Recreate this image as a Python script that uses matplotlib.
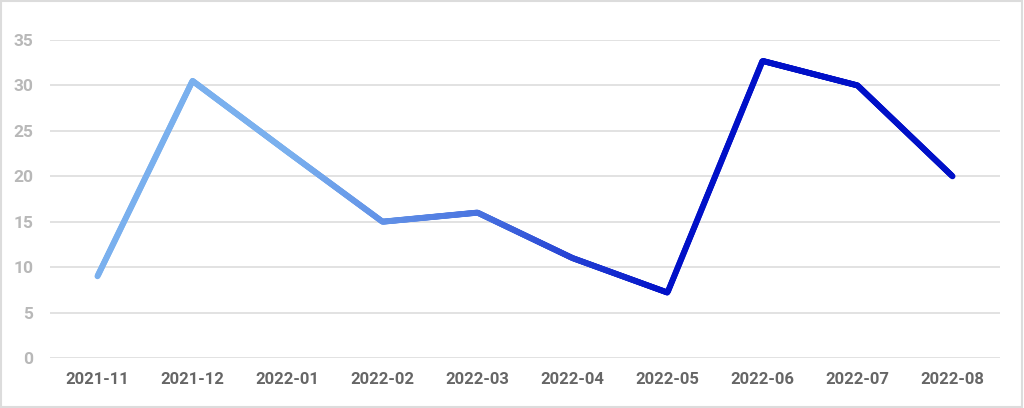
import matplotlib
matplotlib.use("Agg")
import matplotlib.pyplot as plt
import numpy as np
from matplotlib.collections import LineCollection
from matplotlib.colors import LinearSegmentedColormap
from matplotlib.patches import Rectangle

# Données
mois = ["2021-11", "2021-12", "2022-01", "2022-02", "2022-03",
        "2022-04", "2022-05", "2022-06", "2022-07", "2022-08"]
valeurs = [9, 30.5, 22.7, 15, 16, 11, 7.2, 32.7, 30, 20]
graduations_y = [0, 5, 10, 15, 20, 25, 30, 35]

plt.rcParams['font.family'] = ['Roboto', 'DejaVu Sans']

fig = plt.figure(figsize=(10.24, 4.08), dpi=100)
ax = fig.add_axes([50 / 1024, 50 / 408, 950 / 1024, 318 / 408])

# Cadre gris clair autour de la figure
fig.patches.append(Rectangle((0.001, 0.002), 0.997, 0.995, transform=fig.transFigure,
                             fill=False, edgecolor='#dcdcdc', linewidth=1.5))

# Ligne avec dégradé de couleur (clair -> foncé)
x = np.arange(len(mois))
xf = np.linspace(0, len(mois) - 1, 900)
yf = np.interp(xf, x, valeurs)
pts = np.column_stack([xf, yf]).reshape(-1, 1, 2)
segments = np.concatenate([pts[:-1], pts[1:]], axis=1)
cmap = LinearSegmentedColormap.from_list("bleus", ["#7ab0ee", "#4a74e0", "#0010c8"])
t = np.clip((xf[:-1] - 2.0) / 4.0, 0, 1)
lc = LineCollection(segments, colors=cmap(t), linewidths=4.3, capstyle='round',
                    joinstyle='round', zorder=3)
ax.add_collection(lc)

# Axes
ax.set_xlim(-0.5, len(mois) - 0.5)
ax.set_ylim(0, 35)
ax.set_xticks(x)
ax.set_xticklabels(mois, fontsize=12, fontweight='bold', color='#666666')
ax.set_yticks(graduations_y)
ax.set_yticklabels([str(v) for v in graduations_y], fontsize=12.5,
                   fontweight='bold', color='#b8b8b8')
ax.tick_params(length=0, pad=10)
ax.tick_params(axis='y', pad=12)
ax.grid(axis='y', color='#dddddd', linewidth=1.2)
ax.set_axisbelow(True)
for s in ax.spines.values():
    s.set_visible(False)

fig.savefig("out.png", dpi=100)
